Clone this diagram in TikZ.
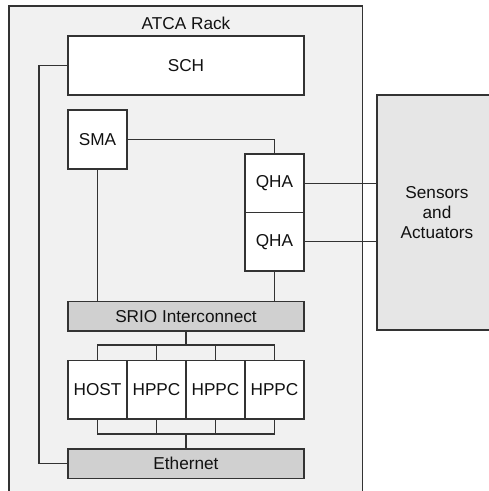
\documentclass[tikz,border=0pt]{standalone}
\usepackage{fontspec}
\setmainfont{Liberation Sans}
\definecolor{edge}{HTML}{333333}
\definecolor{rackfill}{HTML}{F1F1F1}
\definecolor{busfill}{HTML}{D0D0D0}
\definecolor{sensfill}{HTML}{E6E6E6}
\definecolor{ink}{HTML}{111111}
\tikzset{
  lbl/.style={font=\fontsize{17.2}{20}\selectfont, text=ink},
  box/.style={draw=edge, line width=1.4pt, fill=white, inner sep=0pt, outer sep=0pt,
    lbl, align=center},
  busbox/.style={box, fill=busfill},
  wire/.style={draw=edge, line width=1.3pt},
}
\begin{document}
\begin{tikzpicture}[x=1pt,y=-1pt]
\useasboundingbox (0,0) rectangle (489,491);
\clip (0,0) rectangle (489,491);
% rack enclosure
\node[box, fill=rackfill, minimum width=353.5pt, minimum height=494pt] (rack) at (185.75,253) {};
\node[lbl] (racklabel) at (186,23) {ATCA Rack};
% sensors
\node[box, fill=sensfill, minimum width=120pt, minimum height=235pt] (sens) at (437,212.5) {Sensors\\and\\Actuators};
% boards
\node[box, minimum width=236pt, minimum height=59pt] (sch) at (186,65.5) {SCH};
\node[box, minimum width=59pt, minimum height=59pt] (sma) at (97.5,139.5) {SMA};
\node[box, minimum width=59pt, minimum height=58.5pt] (qha1) at (274.5,183.25) {QHA};
\node[box, minimum width=59pt, minimum height=58.5pt] (qha2) at (274.5,241.75) {QHA};
\node[busbox, minimum width=236pt, minimum height=29.5pt] (srio) at (186,316.25) {SRIO Interconnect};
\node[box, minimum width=59pt, minimum height=58.5pt] (host) at (97.5,389.75) {HOST};
\node[box, minimum width=59pt, minimum height=58.5pt] (hp1) at (156.5,389.75) {HPPC};
\node[box, minimum width=59pt, minimum height=58.5pt] (hp2) at (215.5,389.75) {HPPC};
\node[box, minimum width=59pt, minimum height=58.5pt] (hp3) at (274.5,389.75) {HPPC};
\node[busbox, minimum width=236pt, minimum height=29.5pt] (eth) at (186,463.75) {Ethernet};
% bus junctions
\coordinate (topbus) at (186,345);
\coordinate (botbus) at (186,434);
% connectors
\draw[wire] (sch.west) -- ++(-29,0) |- (eth.west);
\draw[wire] (sma.east) -| (qha1.north);
\draw[wire] (sma.south) -- (sma.south |- srio.north);
\draw[wire] (qha2.south) -- (qha2.south |- srio.north);
\draw[wire] (qha1.east) -- (qha1.east -| sens.west);
\draw[wire] (qha2.east) -- (qha2.east -| sens.west);
\draw[wire] (srio.south) -- (topbus);
\draw[wire] (host.north) |- (topbus) -| (hp3.north);
\draw[wire] (hp1.north) -- (hp1.north |- topbus);
\draw[wire] (hp2.north) -- (hp2.north |- topbus);
\draw[wire] (eth.north) -- (botbus);
\draw[wire] (host.south) |- (botbus) -| (hp3.south);
\draw[wire] (hp1.south) -- (hp1.south |- botbus);
\draw[wire] (hp2.south) -- (hp2.south |- botbus);
\end{tikzpicture}
\end{document}
